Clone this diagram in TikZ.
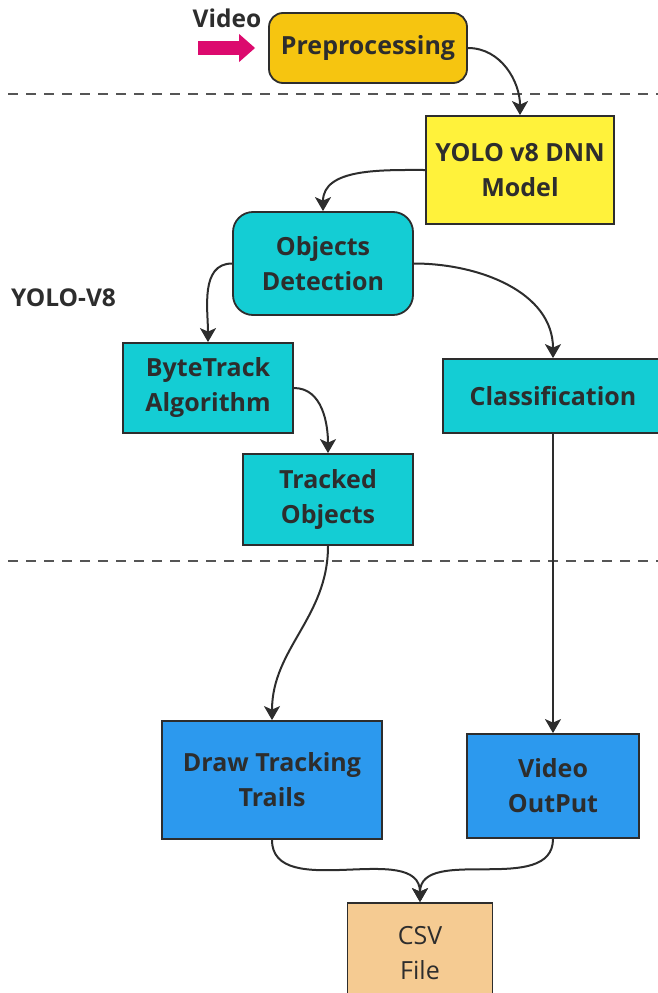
\documentclass[tikz,border=0pt]{standalone}
\usepackage{fontspec}
\setmainfont{Open Sans}
\usepackage{tikz}
\usetikzlibrary{arrows.meta}
\definecolor{o}{RGB}{246,197,16}
\definecolor{y}{RGB}{255,242,59}
\definecolor{c}{RGB}{20,205,212}
\definecolor{b}{RGB}{44,153,238}
\definecolor{s}{RGB}{245,203,146}
\definecolor{m}{RGB}{220,10,110}
\definecolor{k}{RGB}{45,45,45}
\definecolor{d}{RGB}{85,85,85}
\tikzstyle{box}=[draw=k,line width=1.8pt,inner sep=0pt,align=center,text=k,font=\bfseries\fontsize{25}{35}\selectfont]
\tikzstyle{rbox}=[box,rounded corners=14pt]
\tikzstyle{lbl}=[inner sep=0pt,text=k,font=\bfseries\fontsize{24.5}{28}\selectfont]
\tikzstyle{divider}=[-,draw=d,line width=2.2pt,dash pattern=on 10pt off 8pt]

\begin{document}
\begin{tikzpicture}[x=1pt,y=-1pt,->,>={Stealth[length=14pt,width=16pt,inset=3.5pt]},line width=2pt,draw=k]
	\useasboundingbox (0,0) rectangle (658,993);

	\node[rbox,fill=o,minimum width=198pt,minimum height=70pt] (pre) at (368,48) {Preprocessing};
	\node[box,fill=y,minimum width=188pt,minimum height=108pt] (yolo) at (520,170) {YOLO v8 DNN\\Model};
	\node[rbox,rounded corners=20pt,fill=c,minimum width=180pt,minimum height=103pt] (det) at (323,263.5) {Objects\\Detection};
	\node[box,fill=c,minimum width=170pt,minimum height=90pt] (byte) at (208,388) {ByteTrack\\Algorithm};
	\node[box,fill=c,minimum width=220pt,minimum height=74pt] (cls) at (553,396) {Classification};
	\node[box,fill=c,minimum width=170pt,minimum height=91pt] (trk) at (328,499.5) {Tracked\\Objects};
	\node[box,fill=b,minimum width=220pt,minimum height=118pt] (trail) at (272,780) {Draw Tracking\\Trails};
	\node[box,fill=b,minimum width=172pt,minimum height=104pt] (vout) at (553,786) {Video\\OutPut};
	\node[box,fill=s,font=\fontsize{25}{35}\selectfont,minimum width=145pt,minimum height=100pt] (csv) at (420,953) {CSV\\File};

	\node[lbl] (vid) at (227,18) {Video};
	\node[lbl,anchor=west] (yv8) at (10,298) {YOLO-V8};

	\coordinate (vs) at (198,48);
	\draw[m,line width=14pt,-{Triangle[length=16pt,width=27pt]}] (vs) -- ([xshift=-13pt]pre.west);

	\draw[divider] (8,94) -- (658,94);
	\draw[divider] (8,561) -- (658,561);

	\path
		(pre.east)	edge[out=0,in=90]		(yolo.north)
		(yolo.west)	edge[out=180,in=90]		(det.north)
		(det.west)	edge[out=180,in=90]		(byte.north)
		(det.east)	edge[out=0,in=90]		(cls.north)
		(byte.east)	edge[out=0,in=90]		(trk.north)
		(cls.south)	edge					(vout.north)
		(trk.south)	edge[out=-90,in=90]		(trail.north)
		(trail.south)	edge[out=-90,in=90]	(csv.north)
		(vout.south)	edge[out=-90,in=90]	(csv.north);
\end{tikzpicture}
\end{document}
